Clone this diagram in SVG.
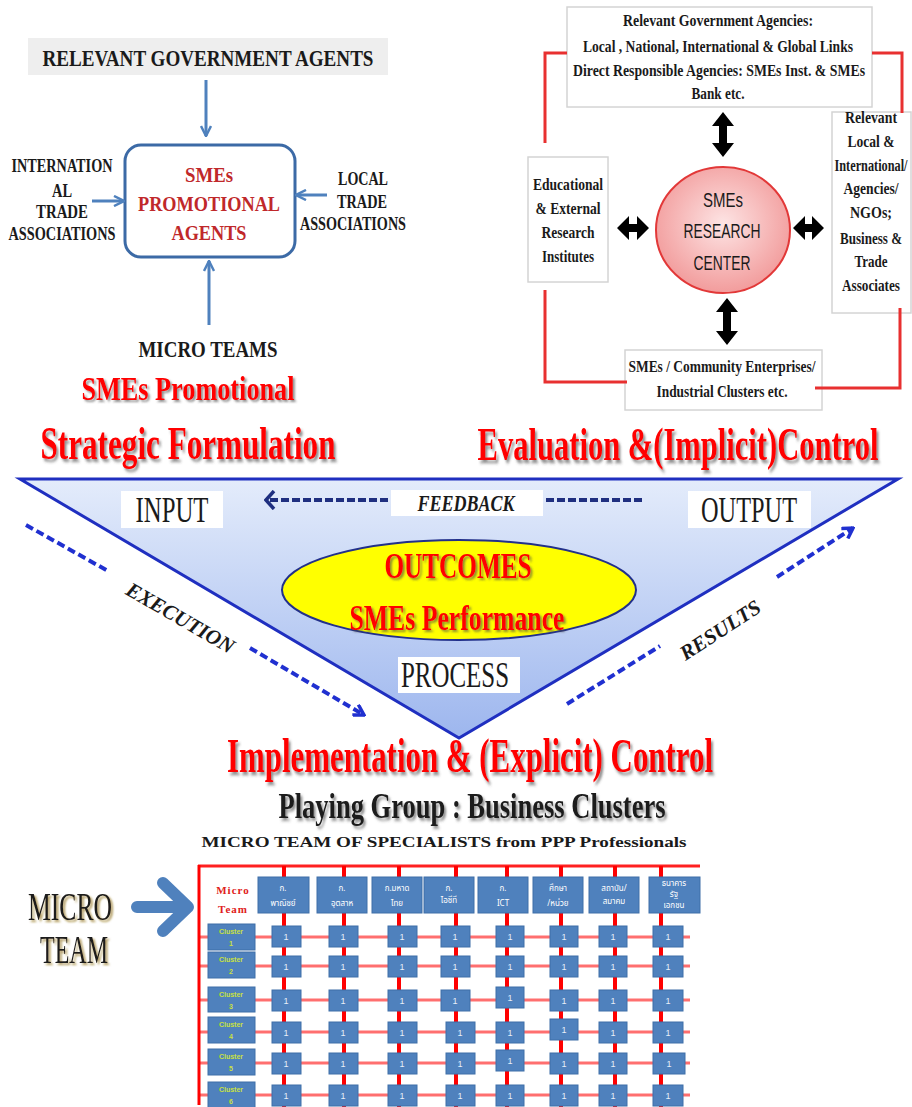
<svg xmlns="http://www.w3.org/2000/svg" width="912" height="1107" viewBox="0 0 912 1107">
<defs>
<style>
.s{font-family:"Liberation Serif","DejaVu Serif",serif}
.sb{font-family:"Liberation Serif","DejaVu Serif",serif;font-weight:bold}
.sa{font-family:"Liberation Sans","DejaVu Sans",sans-serif}
.th{font-family:"Noto Sans Thai","Noto Sans","DejaVu Sans",sans-serif;fill:#ffffff;font-size:8px}
.dk{fill:#1a1a1a}
.rd{fill:#ff0000}
.drd{fill:#c0282a}
.blu{stroke:#4f81bd;stroke-width:3;fill:none}
.redl{stroke:#e83030;stroke-width:3;fill:none}
.wbox{fill:#ffffff;stroke:#d4d4d4;stroke-width:1.5}
.cell{fill:#4f81bd;stroke:#3f6fa8;stroke-width:1}
.celltx{font-family:"Liberation Sans",sans-serif;font-size:9px;fill:#e8eef8}
.cl{font-family:"Liberation Sans",sans-serif;font-size:7px;fill:#c8e040;font-weight:bold}
.dash{stroke:#2030d0;stroke-width:4;fill:none;stroke-dasharray:8 4}
.gv{stroke:#ff0000;stroke-width:4}
.gh{stroke:#ff4040;stroke-width:3;opacity:0.75}
</style>
<linearGradient id="tri" x1="0" y1="0" x2="0" y2="1">
<stop offset="0" stop-color="#e4ecfb"/>
<stop offset="1" stop-color="#9db6ee"/>
</linearGradient>
<radialGradient id="pink" cx="0.5" cy="0.45" r="0.55">
<stop offset="0" stop-color="#fde4e4"/>
<stop offset="1" stop-color="#f29c9c"/>
</radialGradient>
<filter id="sh" x="-5%" y="-20%" width="110%" height="150%">
<feDropShadow dx="2" dy="2" stdDeviation="1" flood-color="#444" flood-opacity="0.6"/>
</filter>
<filter id="shg" x="-5%" y="-20%" width="120%" height="150%">
<feDropShadow dx="2" dy="2" stdDeviation="1" flood-color="#8a6a10" flood-opacity="0.7"/>
</filter>
<marker id="vh" viewBox="0 0 12 12" refX="11" refY="6" markerWidth="12" markerHeight="12" markerUnits="userSpaceOnUse" orient="auto">
<path d="M1,1 L11,6 L1,11" fill="none" stroke="#4f81bd" stroke-width="2.5"/>
</marker>
<marker id="nh" viewBox="0 0 12 20" refX="10" refY="10" markerWidth="12" markerHeight="20" markerUnits="userSpaceOnUse" orient="auto">
<path d="M2,1 L10,10 L2,19" fill="none" stroke="#1f2f80" stroke-width="3.5"/>
</marker>
<marker id="bh" viewBox="0 0 14 14" refX="12" refY="7" markerWidth="14" markerHeight="14" markerUnits="userSpaceOnUse" orient="auto">
<path d="M2,1 L12,7 L2,13" fill="none" stroke="#2030d0" stroke-width="3.5"/>
</marker>
</defs>
<rect width="912" height="1107" fill="#ffffff"/>

<!-- ===== Top-left: SMEs promotional agents ===== -->
<g id="gov-agents">
<rect x="28" y="38" width="360" height="37" fill="#eeeeee"/>
<text class="sb dk" x="208" y="66" font-size="23" text-anchor="middle" textLength="331" lengthAdjust="spacingAndGlyphs">RELEVANT GOVERNMENT AGENTS</text>
</g>
<g id="promo-agents">
<rect x="125" y="145" width="170" height="112" rx="16" fill="#ffffff" stroke="#3c6aa6" stroke-width="3"/>
<text class="sb drd" x="209" y="182" font-size="20" text-anchor="middle" textLength="48" lengthAdjust="spacingAndGlyphs">SMEs</text>
<text class="sb drd" x="209" y="211" font-size="21" text-anchor="middle" textLength="142" lengthAdjust="spacingAndGlyphs">PROMOTIONAL</text>
<text class="sb drd" x="209" y="240" font-size="21" text-anchor="middle" textLength="75" lengthAdjust="spacingAndGlyphs">AGENTS</text>
</g>
<g id="intl-trade">
<text class="sb dk" x="62" y="172" font-size="18" text-anchor="middle" textLength="101" lengthAdjust="spacingAndGlyphs">INTERNATION</text>
<text class="sb dk" x="62" y="197" font-size="18" text-anchor="middle" textLength="20" lengthAdjust="spacingAndGlyphs">AL</text>
<text class="sb dk" x="62" y="218" font-size="18" text-anchor="middle" textLength="52" lengthAdjust="spacingAndGlyphs">TRADE</text>
<text class="sb dk" x="62" y="240" font-size="18" text-anchor="middle" textLength="107" lengthAdjust="spacingAndGlyphs">ASSOCIATIONS</text>
</g>
<g id="local-trade">
<text class="sb dk" x="363" y="185" font-size="18" text-anchor="middle" textLength="50" lengthAdjust="spacingAndGlyphs">LOCAL</text>
<text class="sb dk" x="362" y="208" font-size="18" text-anchor="middle" textLength="50" lengthAdjust="spacingAndGlyphs">TRADE</text>
<text class="sb dk" x="353" y="230" font-size="18" text-anchor="middle" textLength="106" lengthAdjust="spacingAndGlyphs">ASSOCIATIONS</text>
</g>
<g id="micro-teams">
<text class="sb dk" x="208" y="357" font-size="23" text-anchor="middle" textLength="139" lengthAdjust="spacingAndGlyphs">MICRO TEAMS</text>
</g>
<g id="title-promotional">
<text class="sb rd" filter="url(#sh)" x="188" y="400" font-size="34" text-anchor="middle" textLength="213" lengthAdjust="spacingAndGlyphs">SMEs Promotional</text>
</g>

<!-- ===== Top-right: SMEs research center ===== -->
<g id="rel-gov-agencies">
<rect class="wbox" x="567" y="7" width="305" height="100"/>
<text class="sb dk" x="718" y="26" font-size="16" text-anchor="middle" textLength="190" lengthAdjust="spacingAndGlyphs">Relevant Government Agencies:</text>
<text class="sb dk" x="718" y="52" font-size="16" text-anchor="middle" textLength="270" lengthAdjust="spacingAndGlyphs">Local , National, International &amp; Global Links</text>
<text class="sb dk" x="719" y="76" font-size="16" text-anchor="middle" textLength="292" lengthAdjust="spacingAndGlyphs">Direct Responsible Agencies: SMEs Inst. &amp; SMEs</text>
<text class="sb dk" x="718" y="99" font-size="16" text-anchor="middle" textLength="53" lengthAdjust="spacingAndGlyphs">Bank etc.</text>
</g>
<g id="edu-institutes">
<rect class="wbox" x="528" y="157" width="80" height="125"/>
<text class="sb dk" x="568" y="190" font-size="16" text-anchor="middle" textLength="70" lengthAdjust="spacingAndGlyphs">Educational</text>
<text class="sb dk" x="568" y="214" font-size="16" text-anchor="middle" textLength="65" lengthAdjust="spacingAndGlyphs">&amp; External</text>
<text class="sb dk" x="568" y="238" font-size="16" text-anchor="middle" textLength="53" lengthAdjust="spacingAndGlyphs">Research</text>
<text class="sb dk" x="568" y="262" font-size="16" text-anchor="middle" textLength="52" lengthAdjust="spacingAndGlyphs">Institutes</text>
</g>
<g id="intl-agencies">
<rect class="wbox" x="832" y="112" width="79" height="201"/>
<text class="sb dk" x="871" y="123" font-size="16" text-anchor="middle" textLength="52" lengthAdjust="spacingAndGlyphs">Relevant</text>
<text class="sb dk" x="871" y="147" font-size="16" text-anchor="middle" textLength="47" lengthAdjust="spacingAndGlyphs">Local &amp;</text>
<text class="sb dk" transform="translate(871,171) scale(1,1.3)" font-size="12.3" text-anchor="middle" textLength="73" lengthAdjust="spacingAndGlyphs">International/</text>
<text class="sb dk" x="871" y="194" font-size="16" text-anchor="middle" textLength="55" lengthAdjust="spacingAndGlyphs">Agencies/</text>
<text class="sb dk" x="871" y="218" font-size="16" text-anchor="middle" textLength="42" lengthAdjust="spacingAndGlyphs">NGOs;</text>
<text class="sb dk" transform="translate(871,244) scale(1,1.15)" font-size="14" text-anchor="middle" textLength="62" lengthAdjust="spacingAndGlyphs">Business &amp;</text>
<text class="sb dk" x="871" y="267" font-size="16" text-anchor="middle" textLength="33" lengthAdjust="spacingAndGlyphs">Trade</text>
<text class="sb dk" x="871" y="291" font-size="16" text-anchor="middle" textLength="58" lengthAdjust="spacingAndGlyphs">Associates</text>
</g>
<g id="research-center">
<ellipse cx="723" cy="230" rx="67" ry="63" fill="url(#pink)" stroke="#e23838" stroke-width="2"/>
<text class="sa dk" x="723" y="207" font-size="21" text-anchor="middle" textLength="40" lengthAdjust="spacingAndGlyphs">SMEs</text>
<text class="sa dk" x="722" y="238" font-size="21" text-anchor="middle" textLength="77" lengthAdjust="spacingAndGlyphs">RESEARCH</text>
<text class="sa dk" x="722" y="270" font-size="21" text-anchor="middle" textLength="57" lengthAdjust="spacingAndGlyphs">CENTER</text>
</g>
<g id="community-enterprises">
<rect class="wbox" x="625" y="350" width="197" height="60"/>
<text class="sb dk" x="722" y="372" font-size="16" text-anchor="middle" textLength="187" lengthAdjust="spacingAndGlyphs">SMEs / Community Enterprises/</text>
<text class="sb dk" x="722" y="397" font-size="16" text-anchor="middle" textLength="131" lengthAdjust="spacingAndGlyphs">Industrial Clusters etc.</text>
</g>

<!-- ===== Middle: strategic triangle ===== -->
<g id="title-strategic">
<text class="sb rd" filter="url(#sh)" transform="translate(188,459) scale(1,1.5)" font-size="30.7" text-anchor="middle" textLength="295" lengthAdjust="spacingAndGlyphs">Strategic Formulation</text>
</g>
<g id="title-evaluation">
<text class="sb rd" filter="url(#sh)" transform="translate(678,460) scale(1,1.6)" font-size="28.8" text-anchor="middle" textLength="401" lengthAdjust="spacingAndGlyphs">Evaluation &amp;(Implicit)Control</text>
</g>
<g id="triangle">
<polygon points="20,479 898,479 459,738" fill="url(#tri)" stroke="#1f2fc0" stroke-width="3" stroke-linejoin="miter"/>
</g>
<g id="input">
<rect x="121" y="491" width="102" height="37" fill="#ffffff"/>
<text class="s dk" x="172" y="522" font-size="36" text-anchor="middle" textLength="73" lengthAdjust="spacingAndGlyphs">INPUT</text>
</g>
<g id="output">
<rect x="688" y="491" width="123" height="37" fill="#ffffff"/>
<text class="s dk" x="749" y="522" font-size="36" text-anchor="middle" textLength="96" lengthAdjust="spacingAndGlyphs">OUTPUT</text>
</g>
<g id="outcomes">
<ellipse cx="459" cy="590" rx="177" ry="50" fill="#ffff00" stroke="#22308a" stroke-width="2"/>
<text class="sb rd" filter="url(#sh)" x="458" y="578" font-size="36" text-anchor="middle" textLength="147" lengthAdjust="spacingAndGlyphs">OUTCOMES</text>
<text class="sb rd" filter="url(#sh)" x="457" y="630" font-size="36" text-anchor="middle" textLength="215" lengthAdjust="spacingAndGlyphs">SMEs Performance</text>
</g>
<g id="process">
<rect x="398" y="657" width="122" height="36" fill="#ffffff"/>
<text class="s dk" x="455" y="687" font-size="36" text-anchor="middle" textLength="108" lengthAdjust="spacingAndGlyphs">PROCESS</text>
</g>

<g id="connectors">
<!-- top-left blue arrows -->
<line class="blu" x1="206" y1="80" x2="206" y2="136" marker-end="url(#vh)"/>
<line class="blu" x1="92" y1="201" x2="124" y2="201" marker-end="url(#vh)"/>
<line class="blu" x1="327" y1="195" x2="296" y2="195" marker-end="url(#vh)"/>
<line class="blu" x1="209" y1="325" x2="209" y2="261" marker-end="url(#vh)"/>
<!-- red frame lines top-right -->
<path class="redl" d="M567,53 H545 V143"/>
<path class="redl" d="M545,290 V382 H627"/>
<path class="redl" d="M872,53 H902 V113"/>
<path class="redl" d="M900,308 V388 H815"/>
<!-- black double arrows -->
<polygon fill="#000" points="723,112 734,126 727,126 727,143 734,143 723,157 712,143 719,143 719,126 712,126"/>
<polygon fill="#000" points="727,298 738,312 731,312 731,331 738,331 727,345 716,331 723,331 723,312 716,312"/>
<polygon fill="#000" points="617,228 629,216 629,224 637,224 637,216 649,228 637,240 637,232 629,232 629,240"/>
<polygon fill="#000" points="793,228 805,216 805,224 812,224 812,216 824,228 812,240 812,232 805,232 805,240"/>
<!-- feedback -->
<line x1="388" y1="500" x2="266" y2="500" stroke="#1f2f80" stroke-width="4" stroke-dasharray="8 3" marker-end="url(#nh)"/>
<line x1="546" y1="500" x2="645" y2="500" stroke="#1f2f80" stroke-width="4" stroke-dasharray="8 3"/>
<!-- execution -->
<line class="dash" x1="26" y1="525" x2="108" y2="571"/>
<line class="dash" x1="250" y1="648" x2="364" y2="715" marker-end="url(#bh)"/>
<!-- results -->
<line class="dash" x1="567" y1="704" x2="660" y2="646"/>
<line class="dash" x1="777" y1="577" x2="853" y2="528" marker-end="url(#bh)"/>
<!-- micro team big arrow -->
<path d="M137,907 H183 M163,883 L188,907 L163,931" fill="none" stroke="#4f81bd" stroke-width="12" stroke-linecap="round" stroke-linejoin="round"/>
</g>

<g id="feedback">
<rect x="391" y="490" width="152" height="26" fill="#ffffff"/>
<text class="sb dk" font-style="italic" x="466" y="511" font-size="24" text-anchor="middle" textLength="97" lengthAdjust="spacingAndGlyphs">FEEDBACK</text>
</g>
<g id="execution">
<text class="sb dk" font-style="italic" transform="translate(177,624) rotate(30)" font-size="21" text-anchor="middle" textLength="121" lengthAdjust="spacingAndGlyphs">EXECUTION</text>
</g>
<g id="results">
<text class="sb dk" font-style="italic" transform="translate(724,636) rotate(-33)" font-size="21" text-anchor="middle" textLength="92" lengthAdjust="spacingAndGlyphs">RESULTS</text>
</g>

<!-- ===== Bottom ===== -->
<g id="title-implementation">
<text class="sb rd" filter="url(#sh)" transform="translate(470,772) scale(1,1.6)" font-size="30" text-anchor="middle" textLength="486" lengthAdjust="spacingAndGlyphs">Implementation &amp; (Explicit) Control</text>
</g>
<g id="playing-group">
<text class="sb dk" filter="url(#sh)" transform="translate(472,818) scale(1,1.4)" font-size="25.7" text-anchor="middle" textLength="387" lengthAdjust="spacingAndGlyphs">Playing Group : Business Clusters</text>
</g>
<g id="specialists">
<text class="sb dk" x="444" y="847" font-size="15" text-anchor="middle" textLength="485" lengthAdjust="spacingAndGlyphs">MICRO TEAM OF SPECIALISTS from PPP Professionals</text>
</g>
<g id="micro-team-left">
<text class="s dk" filter="url(#shg)" x="70" y="920" font-size="40" text-anchor="middle" textLength="84" lengthAdjust="spacingAndGlyphs">MICRO</text>
<text class="s dk" filter="url(#shg)" x="74" y="963" font-size="40" text-anchor="middle" textLength="68" lengthAdjust="spacingAndGlyphs">TEAM</text>
</g>

<g id="grid">
<line class="gh" x1="198" y1="937" x2="690" y2="937"/>
<line class="gh" x1="198" y1="966" x2="690" y2="966"/>
<line class="gh" x1="198" y1="1000" x2="690" y2="1000"/>
<line class="gh" x1="198" y1="1032" x2="690" y2="1032"/>
<line class="gh" x1="198" y1="1063" x2="690" y2="1063"/>
<line class="gh" x1="198" y1="1095" x2="690" y2="1095"/>
<line x1="198" y1="866" x2="700" y2="866" stroke="#ff2020" stroke-width="3"/>
<line x1="199" y1="865" x2="199" y2="1105" stroke="#ff0000" stroke-width="3"/>
<line class="gv" x1="284" y1="866" x2="284" y2="1107"/>
<line class="gv" x1="344" y1="866" x2="344" y2="1107"/>
<line class="gv" x1="399" y1="866" x2="399" y2="1107"/>
<line class="gv" x1="456" y1="866" x2="456" y2="1107"/>
<line class="gv" x1="507" y1="866" x2="507" y2="1107"/>
<line class="gv" x1="561" y1="866" x2="561" y2="1107"/>
<line class="gv" x1="615" y1="866" x2="615" y2="1107"/>
<line class="gv" x1="661" y1="866" x2="661" y2="1107"/>
</g>

<g id="micro-team-header">
<text class="sb" fill="#e02020" x="233" y="894" font-size="11" text-anchor="middle" letter-spacing="1">Micro</text>
<text class="sb" fill="#e02020" x="233" y="913" font-size="11" text-anchor="middle" letter-spacing="1">Team</text>
</g>
<g id="h1"><rect class="cell" x="258" y="877" width="51" height="36"/><text class="th" x="283" y="891" text-anchor="middle">ก.</text><text class="th" x="283" y="906" text-anchor="middle">พาณิชย์</text></g>
<g id="h2"><rect class="cell" x="317" y="877" width="50" height="36"/><text class="th" x="342" y="891" text-anchor="middle">ก.</text><text class="th" x="342" y="906" text-anchor="middle">อุตสาห</text></g>
<g id="h3"><rect class="cell" x="372" y="877" width="50" height="36"/><text class="th" x="397" y="891" text-anchor="middle">ก.มหาด</text><text class="th" x="397" y="906" text-anchor="middle">ไทย</text></g>
<g id="h4"><rect class="cell" x="424" y="877" width="50" height="36"/><text class="th" x="449" y="891" text-anchor="middle">ก.</text><text class="th" x="449" y="903" text-anchor="middle">ไอซีที</text></g>
<g id="h5"><rect class="cell" x="478" y="877" width="50" height="36"/><text class="th" x="503" y="891" text-anchor="middle">ก.</text><text class="th" x="503" y="906" text-anchor="middle">ICT</text></g>
<g id="h6"><rect class="cell" x="533" y="877" width="50" height="36"/><text class="th" x="558" y="891" text-anchor="middle">ศึกษา</text><text class="th" x="558" y="906" text-anchor="middle">/หน่วย</text></g>
<g id="h7"><rect class="cell" x="589" y="877" width="50" height="36"/><text class="th" x="614" y="891" text-anchor="middle">สถาบัน/</text><text class="th" x="614" y="904" text-anchor="middle">สมาคม</text></g>
<g id="h8"><rect class="cell" x="649" y="877" width="51" height="36"/><text class="th" x="674" y="886" text-anchor="middle" font-size="6">ธนาคาร</text><text class="th" x="674" y="897" text-anchor="middle" font-size="6">รัฐ</text><text class="th" x="674" y="908" text-anchor="middle" font-size="6">เอกชน</text></g>

<g id="clusters">
<g id="c1"><rect class="cell" x="208" y="924" width="47" height="26"/><text class="cl" x="231" y="934" text-anchor="middle">Cluster</text><text class="cl" x="231" y="946" text-anchor="middle">1</text></g>
<g id="c2"><rect class="cell" x="208" y="952" width="47" height="26"/><text class="cl" x="231" y="962" text-anchor="middle">Cluster</text><text class="cl" x="231" y="974" text-anchor="middle">2</text></g>
<g id="c3"><rect class="cell" x="208" y="987" width="47" height="25"/><text class="cl" x="231" y="997" text-anchor="middle">Cluster</text><text class="cl" x="231" y="1009" text-anchor="middle">3</text></g>
<g id="c4"><rect class="cell" x="208" y="1017" width="47" height="26"/><text class="cl" x="231" y="1027" text-anchor="middle">Cluster</text><text class="cl" x="231" y="1039" text-anchor="middle">4</text></g>
<g id="c5"><rect class="cell" x="208" y="1049" width="47" height="26"/><text class="cl" x="231" y="1059" text-anchor="middle">Cluster</text><text class="cl" x="231" y="1071" text-anchor="middle">5</text></g>
<g id="c6"><rect class="cell" x="208" y="1082" width="47" height="26"/><text class="cl" x="231" y="1092" text-anchor="middle">Cluster</text><text class="cl" x="231" y="1104" text-anchor="middle">6</text></g>
</g>

<g id="cells">
<g id="r1">
<rect class="cell" x="272" y="926" width="29" height="21"/><text class="celltx" x="286" y="940" text-anchor="middle">1</text>
<rect class="cell" x="329" y="926" width="29" height="21"/><text class="celltx" x="343" y="940" text-anchor="middle">1</text>
<rect class="cell" x="388" y="926" width="29" height="21"/><text class="celltx" x="402" y="940" text-anchor="middle">1</text>
<rect class="cell" x="441" y="926" width="29" height="21"/><text class="celltx" x="455" y="940" text-anchor="middle">1</text>
<rect class="cell" x="496" y="926" width="28" height="21"/><text class="celltx" x="510" y="940" text-anchor="middle">1</text>
<rect class="cell" x="550" y="926" width="28" height="21"/><text class="celltx" x="564" y="940" text-anchor="middle">1</text>
<rect class="cell" x="599" y="926" width="28" height="21"/><text class="celltx" x="613" y="940" text-anchor="middle">1</text>
<rect class="cell" x="653" y="926" width="30" height="21"/><text class="celltx" x="668" y="940" text-anchor="middle">1</text>
</g>
<g id="r2">
<rect class="cell" x="272" y="956" width="29" height="21"/><text class="celltx" x="286" y="970" text-anchor="middle">1</text>
<rect class="cell" x="329" y="956" width="29" height="21"/><text class="celltx" x="343" y="970" text-anchor="middle">1</text>
<rect class="cell" x="388" y="956" width="29" height="21"/><text class="celltx" x="402" y="970" text-anchor="middle">1</text>
<rect class="cell" x="441" y="956" width="29" height="21"/><text class="celltx" x="455" y="970" text-anchor="middle">1</text>
<rect class="cell" x="496" y="956" width="28" height="21"/><text class="celltx" x="510" y="970" text-anchor="middle">1</text>
<rect class="cell" x="550" y="956" width="28" height="21"/><text class="celltx" x="564" y="970" text-anchor="middle">1</text>
<rect class="cell" x="599" y="956" width="28" height="21"/><text class="celltx" x="613" y="970" text-anchor="middle">1</text>
<rect class="cell" x="653" y="956" width="30" height="21"/><text class="celltx" x="668" y="970" text-anchor="middle">1</text>
</g>
<g id="r3">
<rect class="cell" x="272" y="990" width="29" height="21"/><text class="celltx" x="286" y="1004" text-anchor="middle">1</text>
<rect class="cell" x="329" y="990" width="29" height="21"/><text class="celltx" x="343" y="1004" text-anchor="middle">1</text>
<rect class="cell" x="388" y="990" width="29" height="21"/><text class="celltx" x="402" y="1004" text-anchor="middle">1</text>
<rect class="cell" x="441" y="990" width="29" height="21"/><text class="celltx" x="455" y="1004" text-anchor="middle">1</text>
<rect class="cell" x="496" y="987" width="28" height="21"/><text class="celltx" x="510" y="1001" text-anchor="middle">1</text>
<rect class="cell" x="550" y="990" width="28" height="21"/><text class="celltx" x="564" y="1004" text-anchor="middle">1</text>
<rect class="cell" x="599" y="990" width="28" height="21"/><text class="celltx" x="613" y="1004" text-anchor="middle">1</text>
<rect class="cell" x="653" y="990" width="30" height="21"/><text class="celltx" x="668" y="1004" text-anchor="middle">1</text>
</g>
<g id="r4">
<rect class="cell" x="272" y="1022" width="29" height="21"/><text class="celltx" x="286" y="1036" text-anchor="middle">1</text>
<rect class="cell" x="329" y="1022" width="29" height="21"/><text class="celltx" x="343" y="1036" text-anchor="middle">1</text>
<rect class="cell" x="388" y="1022" width="29" height="21"/><text class="celltx" x="402" y="1036" text-anchor="middle">1</text>
<rect class="cell" x="446" y="1022" width="29" height="21"/><text class="celltx" x="460" y="1036" text-anchor="middle">1</text>
<rect class="cell" x="496" y="1022" width="28" height="21"/><text class="celltx" x="510" y="1036" text-anchor="middle">1</text>
<rect class="cell" x="550" y="1019" width="28" height="21"/><text class="celltx" x="564" y="1033" text-anchor="middle">1</text>
<rect class="cell" x="599" y="1022" width="28" height="21"/><text class="celltx" x="613" y="1036" text-anchor="middle">1</text>
<rect class="cell" x="653" y="1022" width="30" height="21"/><text class="celltx" x="668" y="1036" text-anchor="middle">1</text>
</g>
<g id="r5">
<rect class="cell" x="272" y="1053" width="29" height="21"/><text class="celltx" x="286" y="1067" text-anchor="middle">1</text>
<rect class="cell" x="329" y="1053" width="29" height="21"/><text class="celltx" x="343" y="1067" text-anchor="middle">1</text>
<rect class="cell" x="388" y="1053" width="29" height="21"/><text class="celltx" x="402" y="1067" text-anchor="middle">1</text>
<rect class="cell" x="446" y="1053" width="29" height="21"/><text class="celltx" x="460" y="1067" text-anchor="middle">1</text>
<rect class="cell" x="496" y="1050" width="28" height="21"/><text class="celltx" x="510" y="1064" text-anchor="middle">1</text>
<rect class="cell" x="550" y="1053" width="28" height="21"/><text class="celltx" x="564" y="1067" text-anchor="middle">1</text>
<rect class="cell" x="599" y="1053" width="28" height="21"/><text class="celltx" x="613" y="1067" text-anchor="middle">1</text>
<rect class="cell" x="653" y="1053" width="32" height="21"/><text class="celltx" x="669" y="1067" text-anchor="middle">1</text>
</g>
<g id="r6">
<rect class="cell" x="272" y="1085" width="29" height="21"/><text class="celltx" x="286" y="1099" text-anchor="middle">1</text>
<rect class="cell" x="329" y="1085" width="29" height="21"/><text class="celltx" x="343" y="1099" text-anchor="middle">1</text>
<rect class="cell" x="388" y="1085" width="29" height="21"/><text class="celltx" x="402" y="1099" text-anchor="middle">1</text>
<rect class="cell" x="446" y="1085" width="29" height="21"/><text class="celltx" x="460" y="1099" text-anchor="middle">1</text>
<rect class="cell" x="496" y="1085" width="28" height="21"/><text class="celltx" x="510" y="1099" text-anchor="middle">1</text>
<rect class="cell" x="550" y="1085" width="28" height="21"/><text class="celltx" x="564" y="1099" text-anchor="middle">1</text>
<rect class="cell" x="599" y="1085" width="28" height="21"/><text class="celltx" x="613" y="1099" text-anchor="middle">1</text>
<rect class="cell" x="653" y="1085" width="30" height="21"/><text class="celltx" x="668" y="1099" text-anchor="middle">1</text>
</g>
</g>
</svg>
